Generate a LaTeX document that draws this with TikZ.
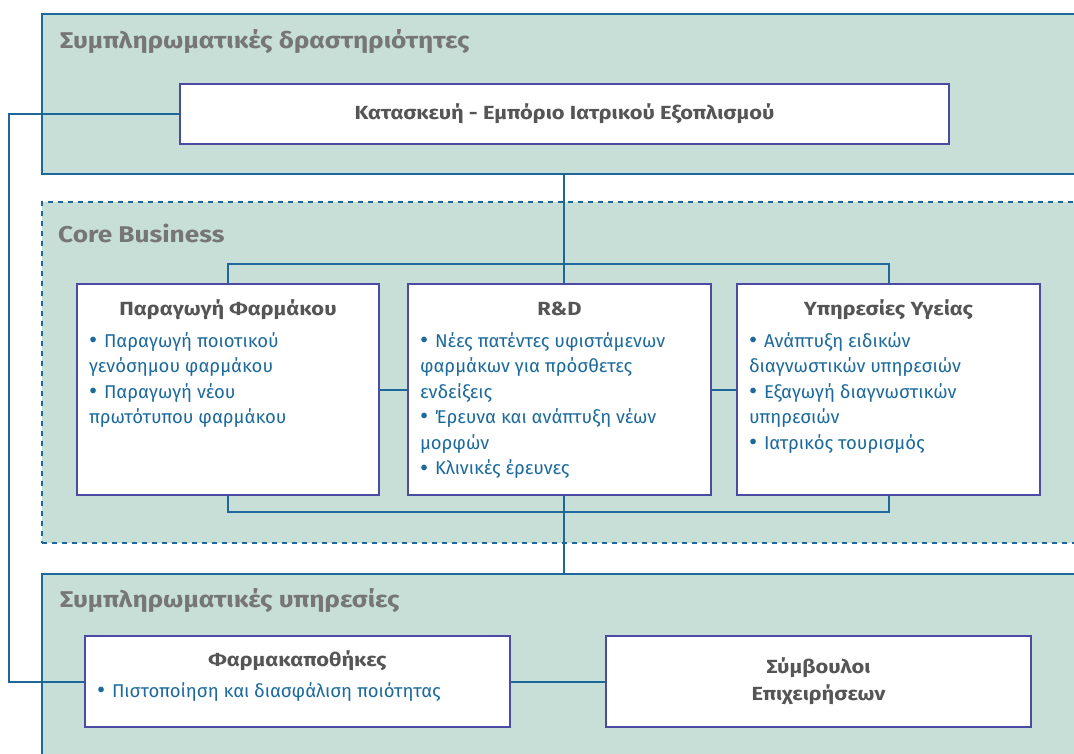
\documentclass[tikz,border=0pt]{standalone}
\usepackage{fontspec}
\setmainfont{Fira Sans}[BoldFeatures={FakeStretch=1.15}]
\usepackage{tikz}
\usetikzlibrary{positioning}

\definecolor{panelfill}{HTML}{C7DFD7}
\definecolor{linkblue}{HTML}{1D679A}
\definecolor{cardline}{HTML}{4B4BA3}
\definecolor{headgray}{HTML}{555555}
\definecolor{titlegray}{HTML}{767676}
\definecolor{itemblue}{HTML}{1B6A9B}

% card body: width, height, first baseline, title, items
\newcommand{\cardbody}[5]{%
  \begin{minipage}[t][#2][t]{#1}
  {\centering\fontsize{19}{25.5}\selectfont\bfseries\color{headgray}\rule{0pt}{#3}#4\par}
  \vspace{5.5pt}
  \raggedright\fontsize{18.5}{25.5}\selectfont\color{itemblue}#5
  \end{minipage}}
\newcommand{\bul}[1]{\par\hangindent=15pt\hangafter=1\noindent
  \makebox[15pt][l]{\raisebox{-1.5pt}{\fontsize{25}{0}\selectfont\textbullet}}#1}

\tikzset{
  panel/.style={draw=linkblue, fill=panelfill, line width=2pt, rectangle, anchor=north west, inner sep=0pt},
  dashpanel/.style={panel, dash pattern=on 5pt off 5pt},
  grouptitle/.style={anchor=west, inner sep=0pt, text=titlegray, font=\fontsize{22.8}{26}\selectfont\bfseries},
  card/.style={draw=cardline, fill=white, line width=1.6pt, rectangle, inner xsep=12pt, inner ysep=0pt},
  headcard/.style={card, text=headgray, font=\fontsize{19}{27}\selectfont\bfseries, align=center},
  link/.style={draw=linkblue, line width=2pt},
}

\begin{document}
\begin{tikzpicture}[x=1pt,y=-1pt,line join=miter]
\useasboundingbox (0,0) rectangle (1074,754);
\clip (0,0) rectangle (1074,754);
%%
  % Node: panels
  \node[panel, minimum width=1050pt, minimum height=160pt] (comp) at (41,13) {};
  \node[dashpanel, minimum width=1050pt, minimum height=341pt] (core) at (41,201) {};
  \node[panel, minimum width=1050pt, minimum height=200pt] (serv) at (41,573) {};
  \node[grouptitle] (comptitle) at (60,42) {Συμπληρωματικές δραστηριότητες};
  \node[grouptitle] (coretitle) at (58,233) {Core Business};
  \node[grouptitle] (servtitle) at (60,600) {Συμπληρωματικές υπηρεσίες};
  % Node: trade
  \node[headcard, minimum width=769pt, minimum height=60pt] (trade) at (564.5,114) {Κατασκευή - Εμπόριο Ιατρικού Εξοπλισμού};
  % Node: drug
  \node[card] (drug) at (228,389.5) {\cardbody{278pt}{211pt}{32pt}{Παραγωγή Φαρμάκου}{%
    \bul{Παραγωγή ποιοτικού\\γενόσημου φαρμάκου}
    \bul{Παραγωγή νέου\\πρωτότυπου φαρμάκου}}};
  % Node: rd
  \node[card] (rd) at (559.5,389.5) {\cardbody{279pt}{211pt}{32pt}{R\&D}{%
    \bul{Νέες πατέντες υφιστάμενων\\φαρμάκων για πρόσθετες\\ενδείξεις}
    \bul{Έρευνα και ανάπτυξη νέων\\μορφών}
    \bul{Κλινικές έρευνες}}};
  % Node: health
  \node[card] (health) at (888.5,389.5) {\cardbody{279pt}{211pt}{32pt}{Υπηρεσίες Υγείας}{%
    \bul{Ανάπτυξη ειδικών\\διαγνωστικών υπηρεσιών}
    \bul{Εξαγωγή διαγνωστικών\\υπηρεσιών}
    \bul{Ιατρικός τουρισμός}}};
  % Node: pharm
  \node[card] (pharm) at (297.5,681.5) {\cardbody{401pt}{91pt}{30pt}{Φαρμακαποθήκες}{%
    \bul{Πιστοποίηση και διασφάλιση ποιότητας}}};
  % Node: advis
  \node[headcard, minimum width=425pt, minimum height=91pt] (advis) at (818.5,681.5) {Σύμβουλοι\\Επιχειρήσεων};
  \coordinate (hub) at (564,264);
  \coordinate (hubb) at (564,512);
%
  % Edge: trade -> pharm
  \draw[link] (trade.west) -- ++(-170,0) |- (pharm.west);
  % Edge: comp -> core cards
  \draw[link] (hub |- comp.south) -- (hub |- rd.north);
  \draw[link] (drug.north) |- (hub) -| (health.north);
  % Edge: core cards -> serv
  \draw[link] (drug.south) |- (hubb) -| (health.south);
  \draw[link] (hub |- rd.south) -- (hub |- serv.north);
  % Edge: drug -> rd -> health
  \draw[link] (drug.east) -- (rd.west);
  \draw[link] (rd.east) -- (health.west);
  % Edge: pharm -> advis
  \draw[link] (pharm.east) -- (advis.west);
%
\end{tikzpicture}
\end{document}
